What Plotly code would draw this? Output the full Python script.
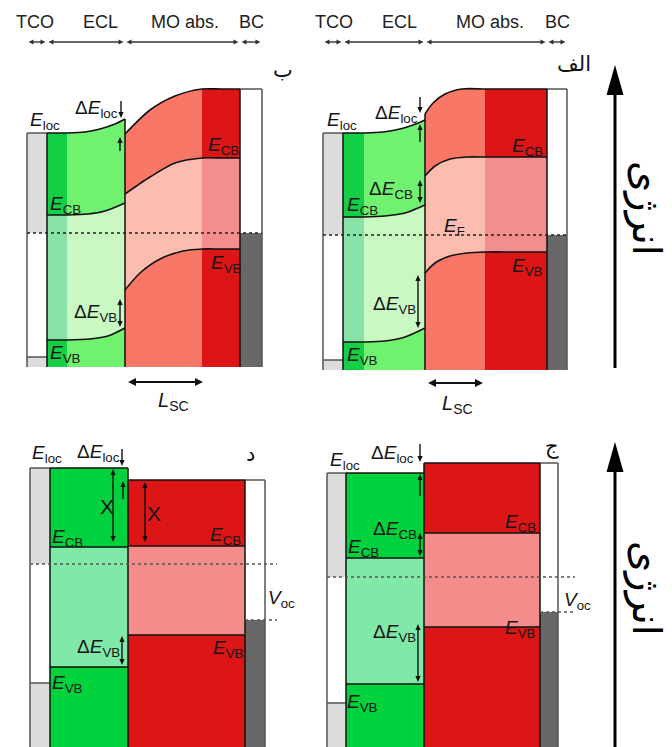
import math
import plotly.graph_objects as go

W, H = 672, 747

# ---------------------------------------------------------------------------
# Panels: 0 = top-left, 1 = top-right, 2 = bottom-left, 3 = bottom-right
# ---------------------------------------------------------------------------
PANEL_TAGS = ["ب", "الف", "د", "ج"]
TAG_POS = [(283, 70), (574, 64), (250, 454), (552, 446)]

# layer extents along the device stack (TCO | ECL | MO absorber | BC)
TCO_X = [(27, 47), (323, 343), (30, 50), (327, 346)]
ECL_X = [(47, 125), (343, 425), (50, 128), (346, 424)]
ECL_STRIP_END = [67, 364, None, None]
MO_X = [(125, 240), (425, 547), (128, 245), (424, 540)]
MO_DARK_START = [202, 485, None, None]
BC_X = [(240, 262), (547, 567), (245, 265), (540, 558)]

# energy levels (vertical position on the drawing, increasing downward)
BOTTOM = [367, 370, 747, 747]
TCO_TOP = [133, 133, 468, 473]
FERMI = [233, 235, 564, 577]
TCO_LOW = [357, 360, 683, 703]
BC_TOP = [89, 89, 480, 463]
BC_FERMI = [233, 235, 620, 612]
FERMI_END = [262, 567, 277, 575]

# band edges, as (position, level) control points
ECL_LOC = [
    [(47, 133), (67, 133), (85, 132), (100, 129), (115, 124), (125, 119)],
    [(343, 133), (364, 133), (383, 132), (400, 129), (413, 125), (425, 120)],
    [(50, 468), (128, 468)],
    [(346, 473), (424, 473)],
]
ECL_CB = [
    [(47, 215), (67, 215), (88, 214), (105, 211), (125, 203)],
    [(343, 217), (364, 217), (385, 216), (405, 213), (425, 205)],
    [(50, 547), (128, 547)],
    [(346, 558), (424, 558)],
]
ECL_VB = [
    [(47, 340), (67, 340), (90, 339), (108, 336), (125, 328)],
    [(343, 342), (364, 342), (385, 341), (405, 337), (425, 328)],
    [(50, 667), (128, 667)],
    [(346, 684), (424, 684)],
]
MO_TOP = [
    [(125, 134), (150, 110), (175, 96), (202, 89), (221, 89), (240, 89)],
    [(425, 114), (433, 103), (445, 94), (462, 89), (485, 89), (516, 89), (547, 89)],
    [(128, 480), (245, 480)],
    [(424, 463), (540, 463)],
]
MO_CB = [
    [(125, 194), (150, 177), (175, 163), (202, 158), (221, 158), (240, 158)],
    [(425, 176), (435, 166), (450, 159), (467, 157), (485, 157), (516, 157), (547, 157)],
    [(128, 546), (245, 546)],
    [(424, 533), (540, 533)],
]
MO_VB = [
    [(125, 290), (140, 273), (160, 259), (183, 251), (202, 249), (221, 249), (240, 249)],
    [(425, 273), (435, 263), (450, 256), (467, 253), (485, 252), (516, 252), (547, 252)],
    [(128, 635), (245, 635)],
    [(424, 627), (540, 627)],
]

# header (layer names) above the upper panels
HEADER_NAMES = ["TCO", "ECL", "MO abs.", "BC"]
HEADER_TEXT_X = [[35, 100, 185, 251], [334, 399, 490, 557]]
HEADER_TEXT_Y = 22
HEADER_ARROW_Y = 42

# text labels: (panel, text, x, y, anchor, size)
E = "<i>E</i>"
LABELS = [
    (0, E + "<sub>loc</sub>", 28, 121, "left", 19),
    (0, "Δ" + E + "<sub>loc</sub>", 73, 109, "left", 19),
    (0, E + "<sub>CB</sub>", 48, 205, "left", 19),
    (0, E + "<sub>CB</sub>", 206, 146, "left", 19),
    (0, E + "<sub>VB</sub>", 209, 264, "left", 19),
    (0, "Δ" + E + "<sub>VB</sub>", 72, 313, "left", 19),
    (0, E + "<sub>VB</sub>", 48, 354, "left", 19),
    (0, "<i>L</i><sub>SC</sub>", 173, 401, "center", 20),
    (1, E + "<sub>loc</sub>", 325, 121, "left", 19),
    (1, "Δ" + E + "<sub>loc</sub>", 373, 114, "left", 19),
    (1, "Δ" + E + "<sub>CB</sub>", 367, 190, "left", 19),
    (1, E + "<sub>CB</sub>", 345, 206, "left", 19),
    (1, E + "<sub>F</sub>", 442, 227, "left", 19),
    (1, E + "<sub>CB</sub>", 510, 147, "left", 19),
    (1, E + "<sub>VB</sub>", 510, 267, "left", 19),
    (1, "Δ" + E + "<sub>VB</sub>", 371, 305, "left", 19),
    (1, E + "<sub>VB</sub>", 345, 356, "left", 19),
    (1, "<i>L</i><sub>SC</sub>", 457, 404, "center", 20),
    (2, E + "<sub>loc</sub>", 30, 454, "left", 19),
    (2, "Δ" + E + "<sub>loc</sub>", 75, 453, "left", 19),
    (2, "X", 107, 506, "center", 21),
    (2, "X", 154, 513, "center", 21),
    (2, E + "<sub>CB</sub>", 50, 538, "left", 19),
    (2, E + "<sub>CB</sub>", 208, 536, "left", 19),
    (2, "<i>V</i><sub>oc</sub>", 266, 599, "left", 19),
    (2, "Δ" + E + "<sub>VB</sub>", 75, 648, "left", 19),
    (2, E + "<sub>VB</sub>", 211, 649, "left", 19),
    (2, E + "<sub>VB</sub>", 50, 684, "left", 19),
    (3, E + "<sub>loc</sub>", 328, 461, "left", 19),
    (3, "Δ" + E + "<sub>loc</sub>", 369, 454, "left", 19),
    (3, "Δ" + E + "<sub>CB</sub>", 371, 530, "left", 19),
    (3, E + "<sub>CB</sub>", 346, 548, "left", 19),
    (3, E + "<sub>CB</sub>", 503, 523, "left", 19),
    (3, "<i>V</i><sub>oc</sub>", 562, 601, "left", 19),
    (3, "Δ" + E + "<sub>VB</sub>", 371, 633, "left", 19),
    (3, E + "<sub>VB</sub>", 503, 629, "left", 19),
    (3, E + "<sub>VB</sub>", 345, 703, "left", 19),
]

# small arrows: (x0, y0, x1, y1, double_headed)
SMALL_ARROWS = [
    (121, 101, 121, 118, False), (120, 151, 120, 137, False),
    (120, 299, 120, 327, True),
    (420, 97, 420, 113, False), (420, 142, 420, 124, False),
    (420, 180, 420, 203, True), (418, 275, 418, 328, True),
    (122, 449, 122, 466, False), (123, 499, 123, 481, False),
    (113, 469, 113, 542, True), (145, 482, 145, 542, True),
    (122, 636, 122, 665, True),
    (420, 444, 420, 462, False), (420, 496, 420, 474, False),
    (420, 533, 420, 556, True), (418, 624, 418, 682, True),
]
LSC_ARROWS = [(128, 382, 203, 382), (428, 383, 483, 383)]

# energy axis arrows and caption
ENERGY_ARROWS = [(615, 368, 65), (615, 747, 442)]
ENERGY_WORD = "انرژی"
ENERGY_WORD_POS = [(647, 208), (647, 588)]

# colours
TOP_PAL = dict(ecl_out="#70f270", ecl_out_strip="#14cf46", ecl_mid="#c9f8c3",
               ecl_mid_strip="#88e2a7", mo_out="#f97767", mo_out_dark="#dc1616",
               mo_mid="#fcbdb0", mo_mid_dark="#f28e8e")
BOT_PAL = dict(ecl_out="#00d23e", ecl_mid="#80e9a8", mo_out="#dc1616",
               mo_mid="#f58c8c")
TCO_GREY = "#dcdcdc"
BC_GREY = "#686868"
EDGE = "#111111"
FRAME = "#555555"

FONT = "Liberation Sans, Arial, sans-serif"
AR_FONT = "DejaVu Sans, Noto Sans, sans-serif"
SMOOTH = 0.8

fig = go.Figure()
shapes = []
annotations = []


def pts_xy(pts):
    return [p[0] for p in pts], [p[1] for p in pts]


def boundary(pts, fill=None, color=None):
    xs, ys = pts_xy(pts)
    fig.add_trace(go.Scatter(
        x=xs, y=ys, mode="lines",
        line=dict(shape="spline", smoothing=SMOOTH, width=0, color="rgba(0,0,0,0)"),
        fill=fill, fillcolor=color, hoverinfo="skip", showlegend=False))


def band_fill(upper, lower, color):
    boundary(upper)
    boundary(lower, fill="tonexty", color=color)


def rect(x0, x1, y0, y1, color):
    fig.add_trace(go.Scatter(
        x=[x0, x1, x1, x0, x0], y=[y0, y0, y1, y1, y0], mode="lines",
        line=dict(width=0, color="rgba(0,0,0,0)"), fill="toself",
        fillcolor=color, hoverinfo="skip", showlegend=False))


def band_line(pts, width=1.6, color=EDGE):
    xs, ys = pts_xy(pts)
    fig.add_trace(go.Scatter(
        x=xs, y=ys, mode="lines",
        line=dict(shape="spline", smoothing=SMOOTH, width=width, color=color),
        hoverinfo="skip", showlegend=False))


def seg(x0, y0, x1, y1, color=EDGE, width=1.5, dash=None):
    shapes.append(dict(type="line", x0=x0, y0=y0, x1=x1, y1=y1, layer="above",
                       line=dict(color=color, width=width, dash=dash)))


def head(xt, yt, ux, uy, length, half, color):
    bx, by = xt - ux * length, yt - uy * length
    px, py = -uy, ux
    path = (f"M {xt},{yt} L {bx + px * half},{by + py * half} "
            f"L {bx - px * half},{by - py * half} Z")
    shapes.append(dict(type="path", path=path, layer="above", fillcolor=color,
                       line=dict(width=0)))


def arrow(x0, y0, x1, y1, both=False, length=6, half=2.6, width=1.3, color=EDGE):
    dx, dy = x1 - x0, y1 - y0
    n = math.hypot(dx, dy)
    ux, uy = dx / n, dy / n
    sx, sy = (x0 + ux * length * 0.8, y0 + uy * length * 0.8) if both else (x0, y0)
    ex, ey = x1 - ux * length * 0.8, y1 - uy * length * 0.8
    seg(sx, sy, ex, ey, color=color, width=width)
    head(x1, y1, ux, uy, length, half, color)
    if both:
        head(x0, y0, -ux, -uy, length, half, color)


# ---------------------------------------------------------------------------
# band diagrams
# ---------------------------------------------------------------------------
for p in range(4):
    pal = TOP_PAL if p < 2 else BOT_PAL
    bot = BOTTOM[p]

    # TCO: filled up to the Fermi level, plus the lower block
    tx0, tx1 = TCO_X[p]
    rect(tx0, tx1, TCO_TOP[p], FERMI[p], TCO_GREY)
    rect(tx0, tx1, TCO_LOW[p], bot, TCO_GREY)

    # ECL bands
    ex0, ex1 = ECL_X[p]
    band_fill(ECL_LOC[p], ECL_CB[p], pal["ecl_out"])
    band_fill(ECL_CB[p], ECL_VB[p], pal["ecl_mid"])
    band_fill(ECL_VB[p], [(ex0, bot), (ex1, bot)], pal["ecl_out"])
    if ECL_STRIP_END[p] is not None:
        s1 = ECL_STRIP_END[p]
        rect(ex0, s1, ECL_LOC[p][0][1], ECL_CB[p][0][1], pal["ecl_out_strip"])
        rect(ex0, s1, ECL_CB[p][0][1], ECL_VB[p][0][1], pal["ecl_mid_strip"])
        rect(ex0, s1, ECL_VB[p][0][1], bot, pal["ecl_out_strip"])

    # MO absorber bands
    mx0, mx1 = MO_X[p]
    band_fill(MO_TOP[p], MO_CB[p], pal["mo_out"])
    band_fill(MO_CB[p], MO_VB[p], pal["mo_mid"])
    band_fill(MO_VB[p], [(mx0, bot), (mx1, bot)], pal["mo_out"])
    if MO_DARK_START[p] is not None:
        d0 = MO_DARK_START[p]
        rect(d0, mx1, MO_TOP[p][-1][1], MO_CB[p][-1][1], pal["mo_out_dark"])
        rect(d0, mx1, MO_CB[p][-1][1], MO_VB[p][-1][1], pal["mo_mid_dark"])
        rect(d0, mx1, MO_VB[p][-1][1], bot, pal["mo_out_dark"])

    # back contact
    bx0, bx1 = BC_X[p]
    rect(bx0, bx1, BC_FERMI[p], bot, BC_GREY)

    # band edge lines
    for curve in (ECL_LOC[p], ECL_CB[p], ECL_VB[p], MO_TOP[p], MO_CB[p], MO_VB[p]):
        band_line(curve)

    # outlines
    seg(tx0, TCO_TOP[p], tx1, TCO_TOP[p], color=FRAME)
    seg(tx0, TCO_TOP[p], tx0, bot, color=FRAME)
    seg(tx0, TCO_LOW[p], tx1, TCO_LOW[p], color=FRAME)
    seg(ex0, TCO_TOP[p], ex0, bot, color=EDGE)
    top_join = min(ECL_LOC[p][-1][1], MO_TOP[p][0][1])
    seg(ex1, top_join, ex1, bot, color=EDGE)
    seg(bx0, BC_TOP[p], bx1, BC_TOP[p], color=FRAME)
    seg(bx0, BC_TOP[p], bx0, bot, color=EDGE)
    seg(bx1, BC_TOP[p], bx1, bot, color=FRAME)

    # Fermi level and open-circuit level
    dot_col = "#222222" if p < 2 else "#555555"
    seg(tx0, FERMI[p], FERMI_END[p], FERMI[p], color=dot_col, width=1.6, dash="dot")
    if p >= 2:
        seg(bx0, BC_FERMI[p], FERMI_END[p], BC_FERMI[p], color=dot_col, width=1.6, dash="dot")

    # panel tag
    annotations.append(dict(x=TAG_POS[p][0], y=TAG_POS[p][1], text=PANEL_TAGS[p],
                            showarrow=False, xanchor="center", yanchor="middle",
                            font=dict(family=AR_FONT, size=21, color="#111")))

# ---------------------------------------------------------------------------
# header with layer names
# ---------------------------------------------------------------------------
for p in range(2):
    spans = [TCO_X[p], ECL_X[p], MO_X[p], BC_X[p]]
    for name, tx, (a, b) in zip(HEADER_NAMES, HEADER_TEXT_X[p], spans):
        annotations.append(dict(x=tx, y=HEADER_TEXT_Y, text=name, showarrow=False,
                                xanchor="center", yanchor="middle",
                                font=dict(family=FONT, size=18, color="#222")))
        arrow(a + 1.5, HEADER_ARROW_Y, b - 1.5, HEADER_ARROW_Y, both=True,
              length=5, half=2.6, width=1.4, color="#333")

# ---------------------------------------------------------------------------
# labels and arrows
# ---------------------------------------------------------------------------
for p, text, x, y, anchor, size in LABELS:
    annotations.append(dict(x=x, y=y, text=text, showarrow=False, xanchor=anchor,
                            yanchor="middle",
                            font=dict(family=FONT, size=size, color="#151515")))

for x0, y0, x1, y1, both in SMALL_ARROWS:
    arrow(x0, y0, x1, y1, both=both, length=6, half=2.6, width=1.4)

for x0, y0, x1, y1 in LSC_ARROWS:
    arrow(x0, y0, x1, y1, both=True, length=8, half=4, width=2)

for (x, y0, y1), (wx, wy) in zip(ENERGY_ARROWS, ENERGY_WORD_POS):
    seg(x, y0, x, y1 + 20, color="#000", width=3)
    head(x, y1, 0, -1, 30, 8.5, "#000")
    annotations.append(dict(x=wx, y=wy, text=ENERGY_WORD,
                            showarrow=False, textangle=90, xanchor="center",
                            yanchor="middle",
                            font=dict(family=AR_FONT, size=40, color="#000")))

fig.update_layout(
    width=W, height=H, margin=dict(l=0, r=0, t=0, b=0),
    paper_bgcolor="white", plot_bgcolor="white",
    xaxis=dict(range=[0, W], visible=False, fixedrange=True),
    yaxis=dict(range=[H, 0], visible=False, fixedrange=True),
    shapes=shapes, annotations=annotations, showlegend=False,
)

fig.write_html("out.html")
